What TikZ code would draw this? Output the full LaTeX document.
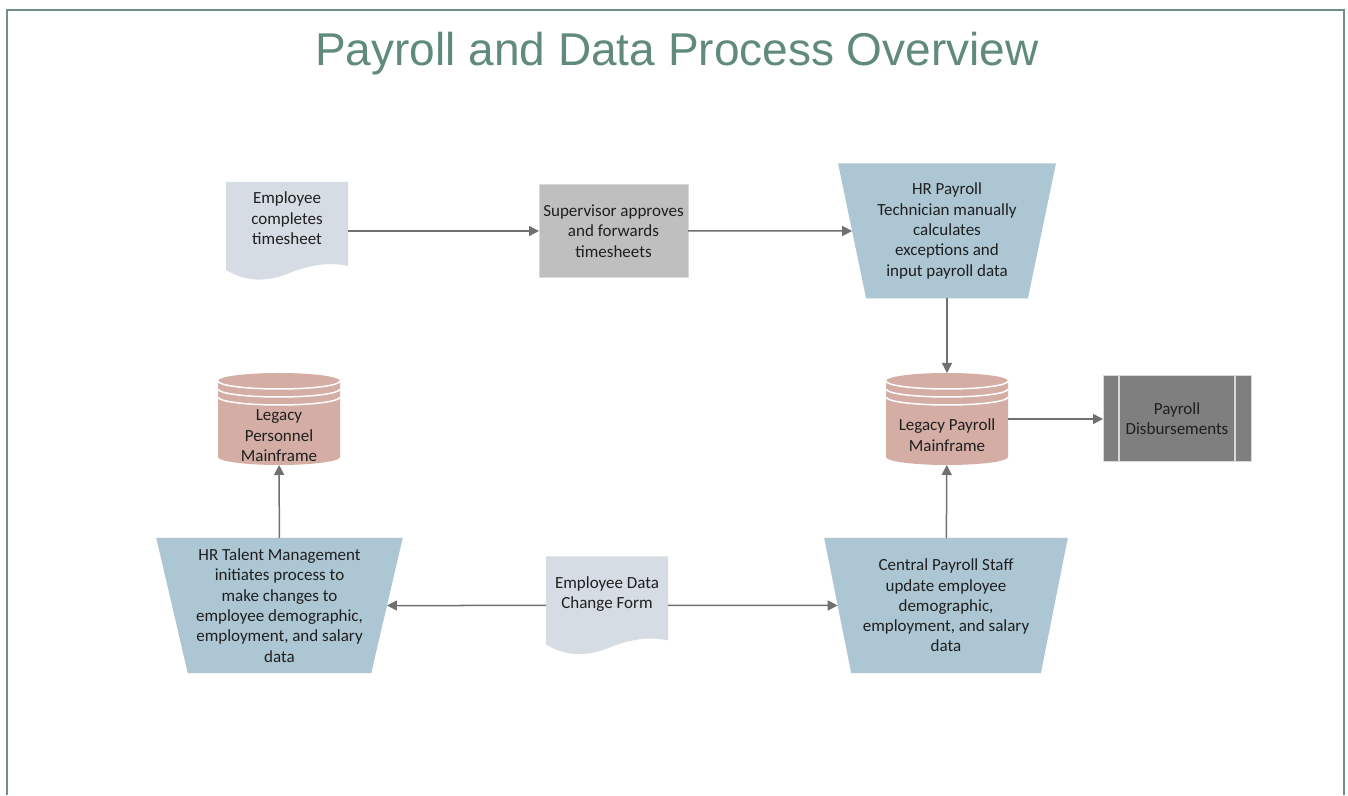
\documentclass[tikz,border=0pt]{standalone}
\usepackage{fontspec}
\setmainfont{Carlito}
\newfontfamily\headfont{Liberation Sans}
\usetikzlibrary{shapes.geometric, arrows.meta}

\definecolor{framegreen}{RGB}{110,144,132}
\definecolor{titlegreen}{RGB}{96,138,124}
\definecolor{docgray}{RGB}{214,220,228}
\definecolor{boxgray}{RGB}{191,191,191}
\definecolor{procblue}{RGB}{173,198,211}
\definecolor{dbpink}{RGB}{212,173,165}
\definecolor{outgray}{RGB}{127,127,127}
\definecolor{linkgray}{RGB}{112,112,112}

% stacked lines, moved up or down inside their node
\newcommand{\liftlines}[2]{\raisebox{#1}[\height][\depth]{\begin{tabular}{@{}c@{}}#2\end{tabular}}}

\begin{document}
\begin{tikzpicture}[x=1pt, y=1pt,
  every node/.style={font=\fontsize{17}{20.3}\selectfont, text=black!88, inner sep=2pt, outer sep=0pt},
  flow/.style={draw=linkgray, line width=1.5pt, -{Triangle[length=10pt, width=10pt]}},
  docsheet/.style={minimum width=122pt, minimum height=98pt, path picture={
    \def\nw{path picture bounding box.north west}
    \fill[docgray] (\nw) -- ([shift={(122,0)}]\nw) -- ([shift={(122,-84)}]\nw)
      .. controls ([shift={(105,-80)}]\nw) and ([shift={(85,-82)}]\nw) .. ([shift={(61,-92)}]\nw)
      .. controls ([shift={(40,-100)}]\nw) and ([shift={(20,-100)}]\nw) .. ([shift={(0,-88)}]\nw) -- cycle;}},
  taskbox/.style={rectangle, fill=boxgray, draw=boxgray!60!white, line width=1pt,
    minimum width=149pt, minimum height=93pt, align=center},
  manualop/.style={trapezium, trapezium angle=76, trapezium stretches=true, shape border rotate=180,
    fill=procblue, minimum height=135pt, align=center},
  dbstore/.style={minimum width=122pt, minimum height=92pt, path picture={
    \def\nw{path picture bounding box.north west}
    \fill[dbpink] ([shift={(0,-8)}]\nw) arc[start angle=180, end angle=0, x radius=61, y radius=8]
      -- ([shift={(122,-84)}]\nw) arc[start angle=0, end angle=-180, x radius=61, y radius=8] -- cycle;
    \foreach \dy in {8,16,24}
      \draw[white, line width=1.5pt] ([shift={(0,-\dy)}]\nw) arc[start angle=180, end angle=360, x radius=61, y radius=8];}},
  outbox/.style={rectangle, fill=outgray, draw=white!85!black, line width=1pt,
    minimum width=148pt, minimum height=86pt, align=center, path picture={
    \draw[white!85!black, line width=1.5pt]
      ([xshift=16pt]path picture bounding box.north west) -- ([xshift=16pt]path picture bounding box.south west)
      ([xshift=-16pt]path picture bounding box.north east) -- ([xshift=-16pt]path picture bounding box.south east);}}
]
  \useasboundingbox[fill=white] (0,0) rectangle (1348,795);
  \draw[framegreen, line width=2pt] (7,0) -- (7,785) -- (1344,785) -- (1344,0);
  \node[font=\headfont\fontsize{46}{50}\selectfont, text=titlegreen, anchor=base] (title) at (677,729)
    {Payroll and Data Process Overview};

  % timesheet row
  \node[docsheet] (sheet) at (287,564) {\liftlines{11pt}{Employee\\completes\\timesheet}};
  \node[taskbox] (approve) at (613.5,564) {Supervisor approves\\and forwards\\timesheets};
  \node[manualop, minimum width=218pt] (hrpay) at (947,564)
    {HR Payroll\\Technician manually\\calculates\\exceptions and\\input payroll data};

  % mainframes
  \node[dbstore] (paydb) at (947,376) {\liftlines{-18pt}{Legacy Payroll\\Mainframe}};
  \node[dbstore] (persdb) at (279,376) {\liftlines{-18pt}{Legacy\\Personnel\\Mainframe}};
  \node[outbox] (disburse) at (1177,376) {Payroll\\Disbursements};

  % data change row
  \node[manualop, minimum width=247pt] (talent) at (279.5,189.5)
    {HR Talent Management\\initiates process to\\make changes to\\employee demographic,\\employment, and salary\\data};
  \node[docsheet] (changeform) at (607,189.5) {\liftlines{11pt}{Employee Data\\Change Form}};
  \node[manualop, minimum width=244pt] (central) at (946,189.5)
    {Central Payroll Staff\\update employee\\demographic,\\employment, and salary\\data};

  \draw[flow] (sheet) -- (approve);
  \draw[flow] (approve) -- (hrpay);
  \draw[flow] (hrpay) -- (paydb);
  \draw[flow] (paydb) -- (disburse);
  \draw[flow] (central) -- (paydb);
  \draw[flow] (talent) -- (persdb);
  \draw[flow] (changeform) -- (talent);
  \draw[flow] (changeform) -- (central);
\end{tikzpicture}
\end{document}
